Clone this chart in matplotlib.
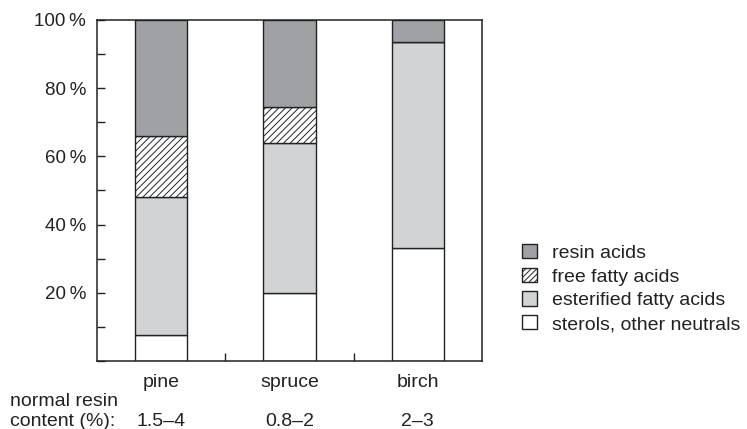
import numpy as np
import matplotlib
matplotlib.use('Agg')
import matplotlib.pyplot as plt
from matplotlib.patches import Patch
from matplotlib.ticker import MultipleLocator

plt.rcParams['font.family'] = ['Liberation Sans', 'DejaVu Sans']
plt.rcParams['hatch.linewidth'] = 0.7

woods = ['pine', 'spruce', 'birch']
resin_content = ['1.5\u20134', '0.8\u20132', '2\u20133']

# percentages, bottom to top
sterols = [7.5, 20, 33]
esterified = [40.5, 44, 60.5]
free_fatty = [18, 10.5, 0]
resin_acids = [34, 25.5, 6.5]

y_ticks = [20, 40, 60, 80, 100]

fig = plt.figure(figsize=(7.47, 4.29), dpi=100)
ax = fig.add_axes([0.1299, 0.1585, 0.5153, 0.7949])

x = np.arange(len(woods))
w = 0.41
ec = '#222222'
lw = 1.0
fs = 14

b = np.zeros(len(woods))
ax.bar(x, sterols, w, bottom=b, color='white', edgecolor=ec, linewidth=lw)
b += sterols
ax.bar(x, esterified, w, bottom=b, color='#d2d3d5', edgecolor=ec, linewidth=lw)
b += esterified
ax.bar(x, free_fatty, w, bottom=b, color='white', edgecolor=ec, linewidth=lw, hatch='/////')
b += free_fatty
ax.bar(x, resin_acids, w, bottom=b, color='#a0a1a5', edgecolor=ec, linewidth=lw)

ax.set_xlim(-0.5, 2.5)
ax.set_ylim(0, 100)

ax.set_yticks(y_ticks)
ax.set_yticklabels([f'{v}\u2009%' for v in y_ticks])
ax.yaxis.set_minor_locator(MultipleLocator(10))
ax.tick_params(axis='y', which='both', direction='in', length=6, width=1, labelsize=13.5, pad=8, colors=ec)
ax.tick_params(axis='y', labelcolor='#222222')

ax.set_xticks([0.5, 1.5])
ax.set_xticklabels([])
ax.tick_params(axis='x', direction='in', length=6, width=1, colors=ec)

for s in ax.spines.values():
    s.set_linewidth(1.1)
    s.set_color(ec)

for i, name in enumerate(woods):
    ax.text(x[i], -6.2, name, ha='center', va='center', fontsize=fs, color='#222222')
    ax.text(x[i], -17.7, resin_content[i], ha='center', va='center', fontsize=fs, color='#222222')

fig.text(10 / 747, 1 - 402 / 429, 'normal resin', ha='left', va='center', fontsize=fs, color='#222222')
fig.text(10 / 747, 1 - 421 / 429, 'content (%):', ha='left', va='center', fontsize=fs, color='#222222')

handles = [
    Patch(facecolor='#a0a1a5', edgecolor=ec, linewidth=lw, label='resin acids'),
    Patch(facecolor='white', edgecolor=ec, linewidth=lw, hatch='//////', label='free fatty acids'),
    Patch(facecolor='#d2d3d5', edgecolor=ec, linewidth=lw, label='esterified fatty acids'),
    Patch(facecolor='white', edgecolor=ec, linewidth=lw, label='sterols, other neutrals'),
]
leg = fig.legend(handles=handles, loc='upper left', bbox_to_anchor=(522 / 747, 1 - 244 / 429),
                 frameon=False, fontsize=fs, handlelength=0.75, handleheight=0.75,
                 handletextpad=0.8, labelspacing=0.3, borderpad=0, borderaxespad=0)
for t in leg.get_texts():
    t.set_color('#222222')

fig.savefig('out.png', dpi=100)
